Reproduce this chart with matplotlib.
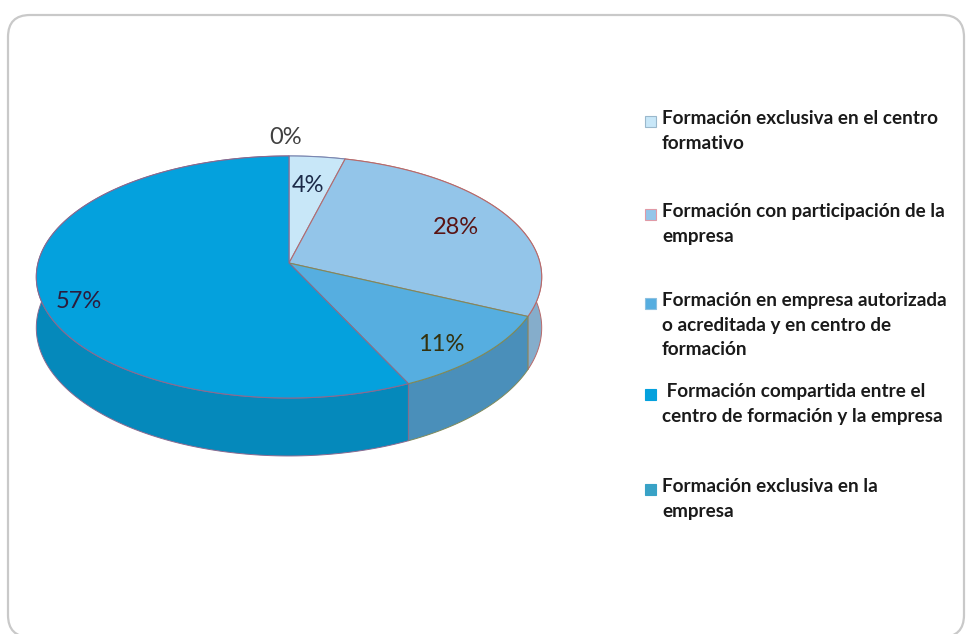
import numpy as np
import matplotlib
matplotlib.use("Agg")
import matplotlib.pyplot as plt
from matplotlib.patches import Polygon, FancyBboxPatch, Rectangle

# ---- data -------------------------------------------------------------
categories = [
    "Formación exclusiva en el centro\nformativo",
    "Formación con participación de la\nempresa",
    "Formación en empresa autorizada\no acreditada y en centro de\nformación",
    " Formación compartida entre el\ncentro de formación y la empresa",
    "Formación exclusiva en la\nempresa",
]
shares = [4, 28, 11, 57, 0]

# ---- style ------------------------------------------------------------
top_colors = ["#c8e7f8", "#93c5e9", "#56aee0", "#04a1dd", "#38a2c6"]
side_colors = ["#a9c6d8", "#85adcb", "#4a8fba", "#0589bb", "#2e88a6"]
edge_colors = ["#7a86b0", "#b86a6a", "#7f8a5a", "#8a6a90", "#6a8a9a"]
swatch_edges = ["#9ab8cc", "#e09aa6", "#8cc0e0", "#04a1dd", "#38a2c6"]
label_colors = ["#1c2a48", "#5a1414", "#34320e", "#2c1c3c", "#404040"]
label_radius = [0.70, 0.77, 0.82, 0.85, 1.20]
label_shift = [(-1, -1), (-2, 2), (-4, 7), (3, 16), (-3, 0)]
legend_rows = [121, 214, 303, 394, 489]

FONT = ["Lato", "DejaVu Sans"]

# pie geometry in pixel space (perspective tilted disc)
CX, CY = 289, 263
A, B, K = 251, 119.4, 0.1157
H = 50


def project(theta_deg, r=1.0):
    t = np.radians(theta_deg)
    u = r * np.sin(t)
    v = r * np.cos(t)
    s = 1.0 / (1.0 + K * v)
    return CX + A * u * s, CY - B * v * s, s


fig = plt.figure(figsize=(9.66, 6.34), dpi=100)
ax = fig.add_axes([0, 0, 1, 1])
ax.set_xlim(0, 966)
ax.set_ylim(634, 0)
ax.axis("off")

# chart area frame
frame = FancyBboxPatch((8, 15), 956, 622, boxstyle="round,pad=0,rounding_size=22",
                       facecolor="white", edgecolor="#c9c9c9", linewidth=1.6, zorder=0)
ax.add_patch(frame)

total = float(sum(shares))
bounds = np.concatenate([[0.0], np.cumsum(shares)]) / total * 360.0

# outer sides of the disc
for i, val in enumerate(shares):
    a0, a1 = bounds[i], bounds[i + 1]
    if a1 - a0 <= 0:
        continue
    th = np.linspace(a0, a1, 200)
    x, y, s = project(th)
    d = H * s ** 1.2
    pts = np.column_stack([np.concatenate([x, x[::-1]]),
                           np.concatenate([y, (y + d)[::-1]])])
    ax.add_patch(Polygon(pts, closed=True, facecolor=side_colors[i],
                         edgecolor=edge_colors[i], linewidth=0.7, zorder=2))

# top faces
for i, val in enumerate(shares):
    a0, a1 = bounds[i], bounds[i + 1]
    if a1 - a0 <= 0:
        continue
    th = np.linspace(a0, a1, 200)
    x, y, s = project(th)
    pts = np.column_stack([np.concatenate([[CX], x]), np.concatenate([[CY], y])])
    ax.add_patch(Polygon(pts, closed=True, facecolor=top_colors[i],
                         edgecolor=edge_colors[i], linewidth=0.8, zorder=3))

# percentage labels
for i, val in enumerate(shares):
    mid = (bounds[i] + bounds[i + 1]) / 2.0
    lx, ly, _ = project(mid, label_radius[i])
    dx, dy = label_shift[i]
    ax.text(lx + dx, ly + dy, f"{val:.0f}%", ha="center", va="center", fontsize=17,
            color=label_colors[i], family=FONT, zorder=5)

# legend
for i, name in enumerate(categories):
    yc = legend_rows[i]
    ax.add_patch(Rectangle((645, yc - 5.5), 11, 11, facecolor=top_colors[i],
                           edgecolor=swatch_edges[i], linewidth=0.8, zorder=4))
    ax.text(662, yc - 11, name, ha="left", va="top", fontsize=13.6,
            fontweight="bold", color="#1a1a1a", family=FONT,
            linespacing=1.55, zorder=4)

fig.savefig("out.png", dpi=100)
